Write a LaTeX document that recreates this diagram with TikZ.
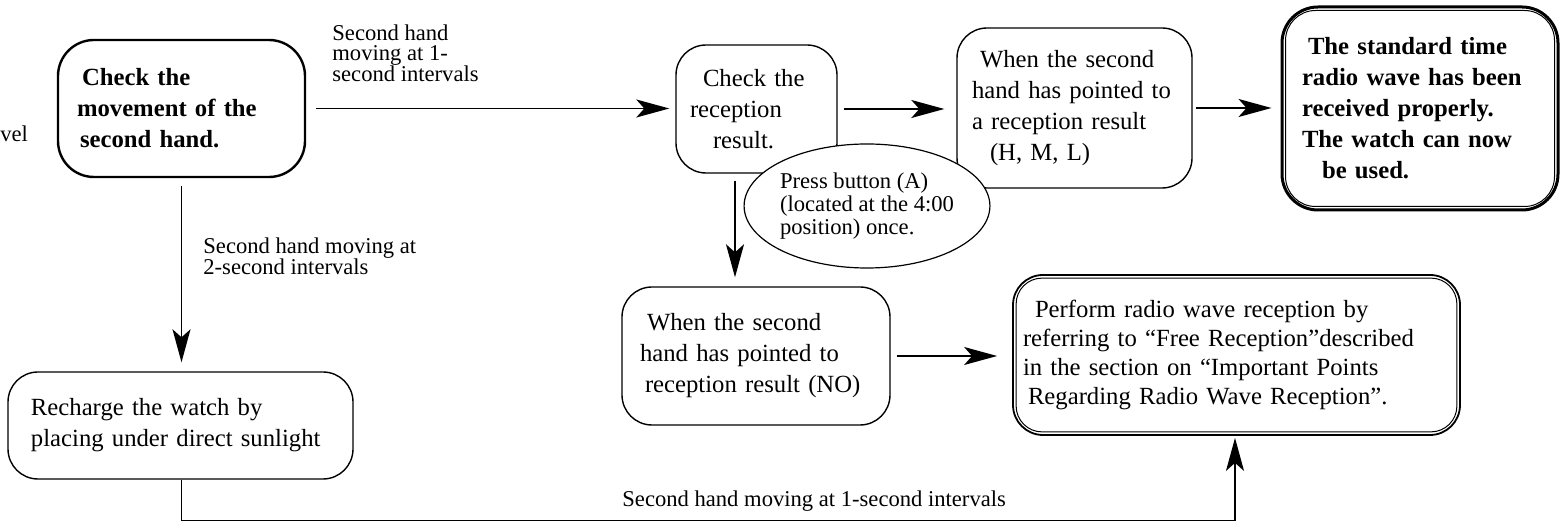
\documentclass[tikz,border=0pt]{standalone}
\usepackage{fontspec}
\setmainfont{Liberation Serif}
\usetikzlibrary{arrows.meta,shapes.geometric}

\begin{document}
\begin{tikzpicture}[x=0.5pt, y=-0.5pt,
  >={Stealth[length=16.5pt,width=9pt,inset=4pt]},
  box/.style={draw, rounded corners=15pt, line width=0.7pt, align=left, inner ysep=0pt,
    font=\fontsize{12.35}{15.5}\selectfont},
  note/.style={inner sep=0pt, anchor=north west, align=left,
    font=\fontsize{11.3}{10.4}\selectfont},
  flow/.style={->, line width=0.85pt}]

\useasboundingbox (0,0) rectangle (1563,522);

% Cut-off word at the left edge
\node[note] (cut) at (0,125) {vel};

% First check
\node[box, line width=1.2pt, rounded corners=18pt, font=\fontsize{12.35}{15.5}\selectfont\bfseries,
  minimum height=68.5pt, inner xsep=9.5pt, text width=104.5pt] (chk) at (181.5,108.5)
  {\hspace*{2.5pt}Check the\\movement of the\\\hspace*{1.5pt}second hand.};

% Reception result
\node[box, minimum height=64pt, inner xsep=7pt, text width=66.5pt] (res) at (756.5,109)
  {\hspace*{6.5pt}Check the\\reception\\\hspace*{11.5pt}result.};

\node[box, minimum height=80pt, inner xsep=7.5pt, text width=102.5pt] (hml) at (1074.5,108)
  {\hspace*{4pt}When the second\\hand has pointed to\\a reception result\\\hspace*{9pt}(H, M, L)};

% Final state (double frame)
\node[box, line width=1.5pt, rounded corners=18pt, font=\fontsize{12.35}{15.5}\selectfont\bfseries,
  minimum height=101.5pt, inner xsep=10pt, text width=118pt] (ok) at (1420,108.5)
  {\hspace*{3pt}The standard time\\radio wave has been\\received properly.\\The watch can now\\\hspace*{10pt}be used.};
\draw[line width=0.5pt, rounded corners=15pt] ([shift={(2.5pt,-2.5pt)}]ok.north west) rectangle ([shift={(-2.5pt,2.5pt)}]ok.south east);

% Button note
\node[ellipse, draw, fill=white, line width=0.6pt, minimum width=102pt, minimum height=62pt,
  inner sep=0pt, align=left, font=\fontsize{11.3}{11.3}\selectfont] (btn) at (867,206)
  {Press button (A)\\(located at the 4:00\\position) once.};

% Lower row
\node[box, minimum height=69pt, inner xsep=9pt, text width=116pt] (no) at (756,356)
  {\hspace*{3.5pt}When the second\\hand has pointed to\\\hspace*{2.5pt}reception result (NO)};

\node[box, line width=0.9pt, font=\fontsize{12.35}{14.5}\selectfont,
  minimum height=80pt, inner xsep=5pt, text width=213.5pt] (free) at (1236.5,355)
  {\hspace*{6pt}Perform radio wave reception by\\referring to “Free Reception”described\\in the section on “Important Points\\\hspace*{2.5pt}Regarding Radio Wave Reception”.};
\draw[line width=0.5pt, rounded corners=13pt] ([shift={(2pt,-2pt)}]free.north west) rectangle ([shift={(-2pt,2pt)}]free.south east);

\node[box, minimum height=53.5pt, inner xsep=11.5pt, text width=149.5pt] (sun) at (180.5,425.5)
  {Recharge the watch by\\placing under direct sunlight};

% Labels
\node[note] (l1) at (332,24) {Second hand\\moving at 1-\\second intervals};
\node[note, font=\fontsize{11.3}{10.5}\selectfont] (l2) at (203,237) {Second hand moving at\\2-second intervals};
\node[note] (l3) at (622,490) {Second hand moving at 1-second intervals};

% Connectors
\draw[flow, shorten <=5pt, shorten >=3pt] (chk.east) -- (chk.east -| res.west);
\draw[flow, shorten <=3pt, shorten >=6pt] (res.east) -- (res.east -| hml.west);
\draw[flow, shorten <=1.5pt, shorten >=4.5pt] (hml.east) -- (hml.east -| ok.west);
\draw[flow, shorten <=3.5pt, shorten >=4.5pt] ([xshift=-10.75pt]res.south) -- ([xshift=-10.75pt]res.south |- no.north);
\draw[flow, shorten <=3pt, shorten >=7.5pt] (no.east) -- (no.east -| free.west);
\draw[flow, shorten <=4pt, shorten >=4.5pt] (chk.south) -- (chk.south |- sun.north);
\coordinate (floor) at (0,520.5);
\draw[flow, shorten >=1pt] (chk.south |- sun.south) -- (chk.south |- floor) -- ([xshift=-0.75pt]free.south |- floor) -- ([xshift=-0.75pt]free.south);

\end{tikzpicture}
\end{document}
